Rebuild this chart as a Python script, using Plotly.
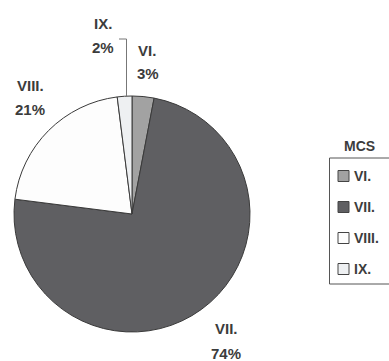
import plotly.graph_objects as go

# ---- data ----
labels = ["VI.", "VII.", "VIII.", "IX."]
values = [3, 74, 21, 2]
colors = ["#a2a2a2", "#5f5f62", "#fdfdfd", "#eef0f2"]
legend_title = "MCS"

W, H = 389, 361
def px(x): return x / W
def py(y): return 1 - y / H

FONT = "Liberation Sans, Arial, sans-serif"
TXT = "#3c3c3c"
EDGE = "#3a3a3a"

# pie geometry (pixels)
cx, cy, r = 132, 214, 118

fig = go.Figure(go.Pie(
    labels=labels, values=values, sort=False, direction="clockwise", rotation=0,
    marker=dict(colors=colors, line=dict(color=EDGE, width=1)),
    textinfo="none", hoverinfo="label+percent", showlegend=False,
    domain=dict(x=[px(cx - r), px(cx + r)], y=[py(cy + r), py(cy - r)]),
))

# slice labels (name above, percent below)
label_pos = {  # pixel centers of name / percent lines
    "VI.": ((147, 50.5), (148, 73.5)),
    "VII.": ((226.5, 328.5), (225.5, 353)),
    "VIII.": ((30, 85.5), (30, 110)),
    "IX.": ((102.5, 23.5), (103, 47.5)),
}
total = sum(values)
annotations = []
for lab, val in zip(labels, values):
    (nx, ny), (vx, vy) = label_pos[lab]
    pct = round(100 * val / total)
    for (x, y), t in (((nx, ny), lab), ((vx, vy), f"{pct}%")):
        annotations.append(dict(x=px(x), y=py(y), xref="paper", yref="paper",
                                text=f"<b>{t}</b>", showarrow=False,
                                xanchor="center", yanchor="middle",
                                font=dict(family=FONT, size=15, color=TXT)))

shapes = []
# leader line for IX.
shapes.append(dict(type="path", xref="paper", yref="paper",
                   path=f"M {px(119)} {py(39)} L {px(126.5)} {py(39)} L {px(126.5)} {py(97)}",
                   line=dict(color="#777777", width=1)))

# legend (manual)
annotations.append(dict(x=px(359), y=py(146), xref="paper", yref="paper",
                        text=f"<b>{legend_title}</b>", showarrow=False,
                        xanchor="center", yanchor="middle",
                        font=dict(family=FONT, size=14, color=TXT)))
shapes.append(dict(type="rect", xref="paper", yref="paper",
                   x0=px(329.5), x1=px(395), y0=py(158), y1=py(284),
                   line=dict(color="#555555", width=1), fillcolor="rgba(0,0,0,0)"))
for i, (lab, col) in enumerate(zip(labels, colors)):
    yc = 176 + 31 * i
    shapes.append(dict(type="rect", xref="paper", yref="paper",
                       x0=px(338), x1=px(349), y0=py(yc - 5.5), y1=py(yc + 5.5),
                       line=dict(color="#444444", width=1), fillcolor=col))
    annotations.append(dict(x=px(352), y=py(yc), xref="paper", yref="paper",
                            text=f"<b>{lab}</b>", showarrow=False,
                            xanchor="left", yanchor="middle",
                            font=dict(family=FONT, size=14, color=TXT)))

fig.update_layout(
    width=W, height=H, margin=dict(l=0, r=0, t=0, b=0),
    paper_bgcolor="white", plot_bgcolor="white",
    annotations=annotations, shapes=shapes, showlegend=False,
)
fig.write_html("out.html", config={"displayModeBar": False},
               post_script="document.body.style.margin='0';document.body.style.overflow='hidden';")
